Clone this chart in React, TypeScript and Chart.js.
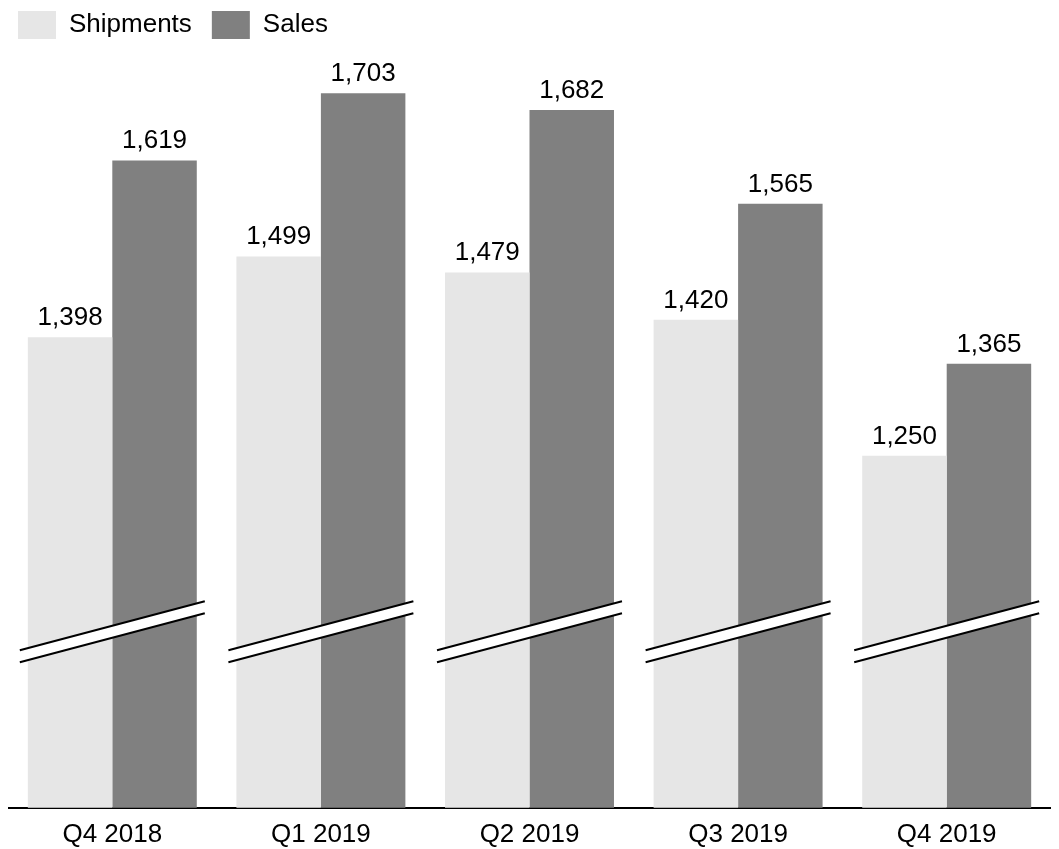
import React, { useEffect, useRef } from "react";
import { Chart, registerables } from "chart.js";

Chart.register(...registerables);

const categories = ["Q4 2018", "Q1 2019", "Q2 2019", "Q3 2019", "Q4 2019"];
const shipments = [1398, 1499, 1479, 1420, 1250];
const sales = [1619, 1703, 1682, 1565, 1365];
const seriesNames = ["Shipments", "Sales"];
const seriesColors = ["#e6e6e6", "#808080"];

const axisMin = 810;
const axisMax = 1737;
const breakValue = 1030;

const FONT = "'Liberation Sans', Arial, Helvetica, sans-serif";

const valueLabelPlugin = {
  id: "valueLabels",
  afterDatasetsDraw(chart: any) {
    const ctx = chart.ctx;
    ctx.save();
    ctx.font = `26px ${FONT}`;
    ctx.fillStyle = "#000";
    ctx.textAlign = "center";
    ctx.textBaseline = "alphabetic";
    chart.data.datasets.forEach((ds: any, di: number) => {
      const meta = chart.getDatasetMeta(di);
      meta.data.forEach((el: any, i: number) => {
        const v = ds.data[i] as number;
        ctx.fillText(v.toLocaleString("en-US"), el.x, el.y - 12);
      });
    });
    ctx.restore();
  },
};

const axisBreakPlugin = {
  id: "axisBreak",
  afterDatasetsDraw(chart: any) {
    const ctx = chart.ctx;
    const y = chart.scales.y;
    const m0 = chart.getDatasetMeta(0);
    const m1 = chart.getDatasetMeta(1);
    const cy = y.getPixelForValue(breakValue);
    const slope = -0.265;
    const half = 6;
    ctx.save();
    m0.data.forEach((el0: any, i: number) => {
      const el1 = m1.data[i];
      const left = el0.x - el0.width / 2 - 8;
      const right = el1.x + el1.width / 2 + 8;
      const cx = (left + right) / 2;
      const yl = cy + slope * (left - cx);
      const yr = cy + slope * (right - cx);
      ctx.beginPath();
      ctx.moveTo(left, yl - half);
      ctx.lineTo(right, yr - half);
      ctx.lineTo(right, yr + half);
      ctx.lineTo(left, yl + half);
      ctx.closePath();
      ctx.fillStyle = "#ffffff";
      ctx.fill();
      ctx.strokeStyle = "#000";
      ctx.lineWidth = 2;
      ctx.beginPath();
      ctx.moveTo(left, yl - half);
      ctx.lineTo(right, yr - half);
      ctx.moveTo(left, yl + half);
      ctx.lineTo(right, yr + half);
      ctx.stroke();
    });
    ctx.restore();
  },
};

const legendShiftPlugin = {
  id: "legendShift",
  afterLayout(chart: any) {
    const lg = chart.legend;
    if (!lg) return;
    lg.left -= 10;
    lg.right -= 10;
    lg.top -= 17;
    lg.bottom -= 17;
    if (lg.legendHitBoxes) {
      lg.legendHitBoxes.forEach((h: any) => {
        h.left -= 10;
        h.top -= 17;
      });
    }
  },
};

export default function App() {
  const ref = useRef<HTMLCanvasElement | null>(null);
  useEffect(() => {
    document.documentElement.style.overflow = "hidden";
    document.body.style.overflow = "hidden";
    if (!ref.current) return;
    const chart = new Chart(ref.current, {
      type: "bar",
      data: {
        labels: categories,
        datasets: [
          {
            label: seriesNames[0],
            data: shipments,
            backgroundColor: seriesColors[0],
            borderWidth: 0,
            categoryPercentage: 0.81,
            barPercentage: 1,
          },
          {
            label: seriesNames[1],
            data: sales,
            backgroundColor: seriesColors[1],
            borderWidth: 0,
            categoryPercentage: 0.81,
            barPercentage: 1,
          },
        ],
      },
      options: {
        animation: false,
        responsive: true,
        maintainAspectRatio: false,
        layout: { padding: 0 },
        plugins: {
          legend: {
            display: true,
            position: "top",
            align: "start",
            labels: {
              boxWidth: 38,
              boxHeight: 28,
              padding: 20,
              color: "#000",
              font: { family: FONT, size: 26 },
            },
          },
          tooltip: { enabled: false },
        },
        scales: {
          x: {
            grid: { display: true, drawOnChartArea: false, drawTicks: false },
            border: { display: true, color: "#000", width: 2 },
            ticks: {
              color: "#000",
              padding: 11,
              font: { family: FONT, size: 26 },
            },
          },
          y: {
            display: false,
            min: axisMin,
            max: axisMax,
          },
        },
      },
      plugins: [valueLabelPlugin, axisBreakPlugin, legendShiftPlugin],
    });
    return () => chart.destroy();
  }, []);
  return (
    <div style={{ position: "relative", width: "100%", height: "853px" }}>
      <canvas ref={ref} />
    </div>
  );
}
